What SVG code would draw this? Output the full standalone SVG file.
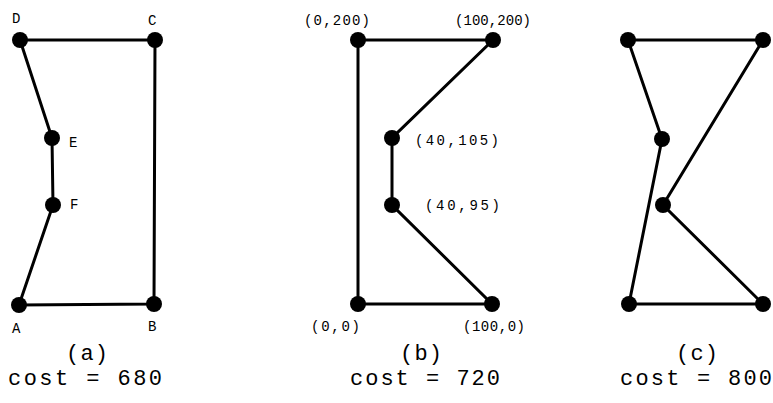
<svg xmlns="http://www.w3.org/2000/svg" width="773" height="403" viewBox="0 0 773 403">
<style>
.e{stroke:#000;stroke-width:3;fill:none;stroke-linecap:round}
.n{fill:#000}
.t{font-family:"Liberation Mono","DejaVu Sans Mono",monospace;fill:#000}
.s{font-size:14px}
.c{font-size:22px;text-anchor:middle}
</style>
<rect width="773" height="403" fill="#fff"/>
<g id="connectors">
<path class="e" d="M20,40 L155,40 L154,304 L19,305 L53,205 L52,138 Z"/>
<path class="e" d="M358,40 L493,40 L392,138 L392,205 L492,304 L358,304 Z"/>
<path class="e" d="M628,40 L763,40 L663,205 L763,304 L629,304 L662,139 Z"/>
</g>
<g id="A"><circle class="n" cx="19" cy="305" r="8"/><text class="t s" x="12" y="333">A</text></g>
<g id="B"><circle class="n" cx="154" cy="304" r="8"/><text class="t s" x="148" y="331">B</text></g>
<g id="C"><circle class="n" cx="155" cy="40" r="8"/><text class="t s" x="148" y="25">C</text></g>
<g id="D"><circle class="n" cx="20" cy="40" r="8"/><text class="t s" x="12" y="23">D</text></g>
<g id="E"><circle class="n" cx="52" cy="138" r="8"/><text class="t s" x="69" y="147">E</text></g>
<g id="F"><circle class="n" cx="53" cy="205" r="8"/><text class="t s" x="70" y="209">F</text></g>
<g id="b00"><circle class="n" cx="358" cy="304" r="8"/><text class="t s" x="311" y="331" textLength="49">(0,0)</text></g>
<g id="b100_0"><circle class="n" cx="492" cy="304" r="8"/><text class="t s" x="463" y="331" textLength="62">(100,0)</text></g>
<g id="b0_200"><circle class="n" cx="358" cy="40" r="8"/><text class="t s" x="304" y="25" textLength="66">(0,200)</text></g>
<g id="b100_200"><circle class="n" cx="493" cy="40" r="8"/><text class="t s" x="455" y="25" textLength="76">(100,200)</text></g>
<g id="b40_105"><circle class="n" cx="392" cy="138" r="8"/><text class="t s" x="415" y="145" textLength="84">(40,105)</text></g>
<g id="b40_95"><circle class="n" cx="392" cy="205" r="8"/><text class="t s" x="425" y="210" textLength="75">(40,95)</text></g>
<g id="c1"><circle class="n" cx="628" cy="40" r="8"/></g>
<g id="c2"><circle class="n" cx="763" cy="40" r="8"/></g>
<g id="c3"><circle class="n" cx="662" cy="139" r="8"/></g>
<g id="c4"><circle class="n" cx="663" cy="205" r="8"/></g>
<g id="c5"><circle class="n" cx="629" cy="304" r="8"/></g>
<g id="c6"><circle class="n" cx="763" cy="304" r="8"/></g>
<g id="captions">
<text class="t c" x="87" y="360" textLength="42">(a)</text>
<text class="t c" x="85" y="385" textLength="154">cost = 680</text>
<text class="t c" x="421" y="360" textLength="42">(b)</text>
<text class="t c" x="425" y="385" textLength="150">cost = 720</text>
<text class="t c" x="697" y="360" textLength="42">(c)</text>
<text class="t c" x="696" y="385" textLength="152">cost = 800</text>
</g>
</svg>
